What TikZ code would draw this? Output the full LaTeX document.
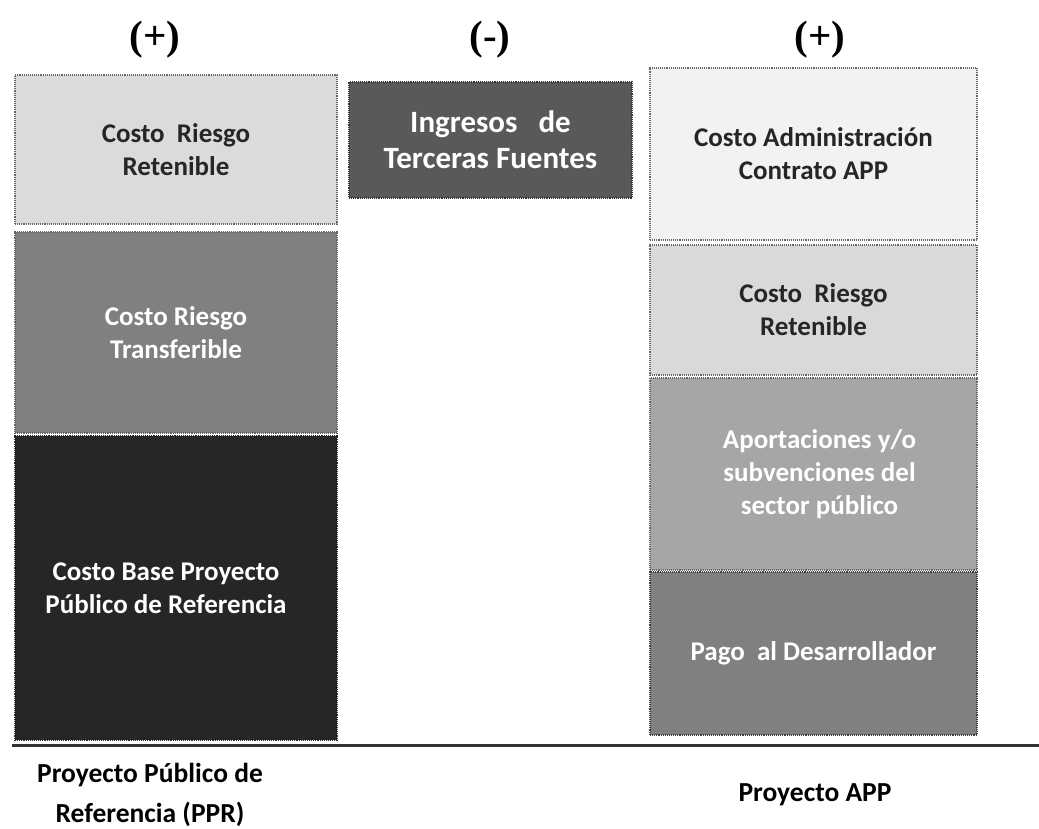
\documentclass[tikz,border=0pt]{standalone}
\usepackage{fontspec}
\setmainfont{Carlito}
\newfontfamily\signofont{Liberation Serif}
\usepackage{xcolor}

\tikzset{
  bloque/.style={draw=black!60, densely dotted, line width=1.1pt, inner sep=0pt,
    align=center, font=\bfseries\fontsize{27}{33}\selectfont},
  claro/.style={bloque, text=black!85},
  oscuro/.style={bloque, text=white},
  signo/.style={font=\signofont\bfseries\fontsize{41}{44}\selectfont},
  pie/.style={align=center, font=\bfseries\fontsize{27.5}{40}\selectfont}
}

\begin{document}
\begin{tikzpicture}[x=1pt,y=-1pt]
			\useasboundingbox (0,0) rectangle (1039,829);
			% signos
			\node[signo] (masA) at (155,40) {(+)};
			\node[signo] (menos) at (490,40) {(-)};
			\node[signo] (masB) at (820,40) {(+)};
			% proyecto publico de referencia
			\node[claro, fill=black!14, minimum width=322pt, minimum height=149pt]
			(retL) at (176,149.5) {Costo~~Riesgo\\Retenible};
			\node[oscuro, fill=black!50, minimum width=322pt, minimum height=201pt]
			(transL) at (176,332.5) {Costo Riesgo\\Transferible};
			\node[oscuro, fill=black!85, draw=black!85, minimum width=322pt, minimum height=304pt]
			(baseL) at (176,588) {\hspace*{-20pt}Costo Base Proyecto\\\hspace*{-20pt}P\'ublico de Referencia};
			% ingresos
			\node[oscuro, fill=black!65, draw=black!80, minimum width=283pt, minimum height=116pt,
			font=\bfseries\fontsize{31}{36}\selectfont]
			(ingr) at (490.5,140) {Ingresos~~~de\\Terceras Fuentes};
			% proyecto APP
			\node[claro, fill=black!5, minimum width=327pt, minimum height=172pt]
			(admin) at (813.5,154) {Costo Administraci\'on\\Contrato APP};
			\node[claro, fill=black!15, minimum width=327pt, minimum height=130pt]
			(retR) at (813.5,310) {Costo~~Riesgo\\Retenible};
			\node[oscuro, fill=black!35, minimum width=327pt, minimum height=192pt]
			(aport) at (813.5,474) {\hspace*{12pt}Aportaciones y/o\\\hspace*{12pt}subvenciones del\\\hspace*{12pt}sector p\'ublico};
			\node[oscuro, fill=black!50, draw=black!75, minimum width=327pt, minimum height=163pt]
			(pago) at (813.5,653.5) {Pago~~al Desarrollador};
			% linea base
			\coordinate (ejeA) at (12,745);
			\coordinate (ejeB) at (1039,745);
			\draw[line width=3pt, black!80] (ejeA) -- (ejeB);
			\node[pie] (ppr) at (150,795) {Proyecto P\'ublico de\\Referencia (PPR)};
			\node[pie] (app) at (815,795) {Proyecto APP};
		\end{tikzpicture}
\end{document}
